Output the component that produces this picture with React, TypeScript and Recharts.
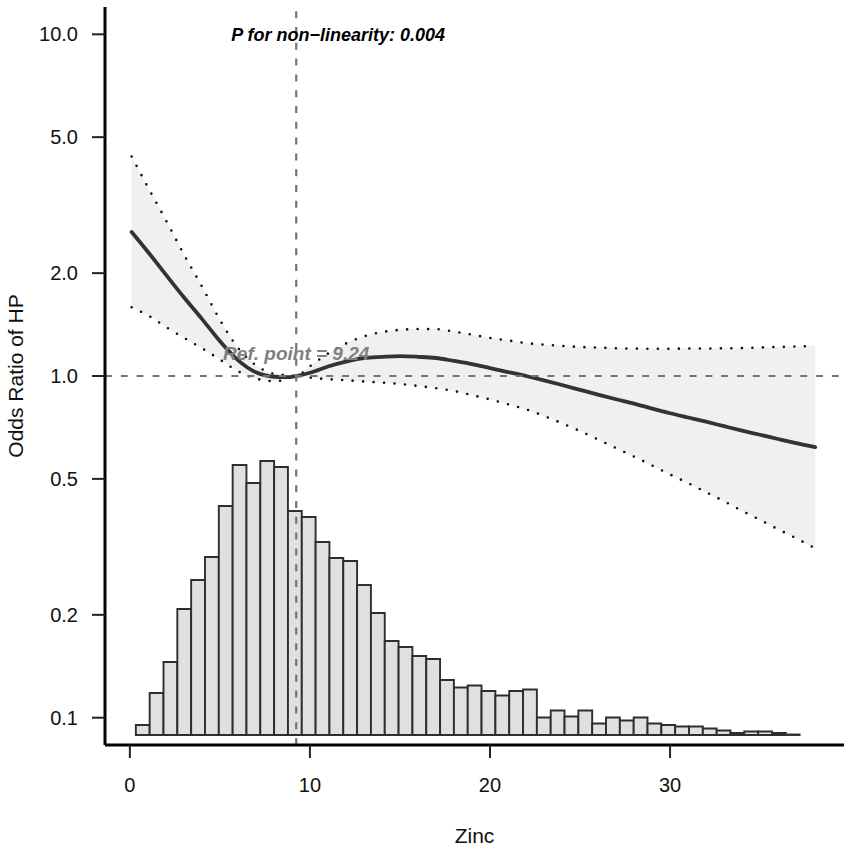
import React from 'react';
import {
  ComposedChart,
  Area,
  Line,
  Bar,
  XAxis,
  YAxis,
  ReferenceLine,
  ReferenceDot,
} from 'recharts';

// ---- RCS curve (Zinc vs odds ratio of HP) ----
const zincX = [
  0.1, 1, 2, 3, 4, 5, 6, 7, 8, 8.6, 9.24, 10, 11, 12, 13, 14, 15, 16, 17, 18, 19, 20,
  21, 22, 23, 24, 25, 26, 27, 28, 29, 30, 31, 32, 33, 34, 35, 36, 37, 38.06,
];
const orEstimate = [
  2.64, 2.31, 1.98, 1.7, 1.47, 1.265, 1.113, 1.025, 0.995, 0.992, 1.0, 1.022, 1.066,
  1.102, 1.128, 1.137, 1.143, 1.138, 1.129, 1.107, 1.084, 1.055, 1.027, 1.0, 0.971,
  0.941, 0.911, 0.882, 0.855, 0.83, 0.803, 0.778, 0.756, 0.735, 0.713, 0.692, 0.673,
  0.654, 0.636, 0.619,
];
const orLower95 = [
  1.589, 1.506, 1.392, 1.294, 1.206, 1.117, 1.033, 0.983, 0.966, 0.974, 1.0, 0.989,
  0.979, 0.972, 0.964, 0.956, 0.948, 0.935, 0.921, 0.904, 0.879, 0.854, 0.827, 0.799,
  0.764, 0.727, 0.69, 0.652, 0.615, 0.581, 0.547, 0.515, 0.486, 0.457, 0.43, 0.403,
  0.379, 0.356, 0.335, 0.313,
];
const orUpper95 = [
  4.39, 3.57, 2.86, 2.27, 1.83, 1.461, 1.21, 1.075, 1.015, 1.007, 1.0, 1.068, 1.163,
  1.245, 1.306, 1.344, 1.365, 1.372, 1.371, 1.349, 1.321, 1.293, 1.271, 1.249, 1.235,
  1.225, 1.216, 1.211, 1.206, 1.203, 1.202, 1.202, 1.203, 1.204, 1.205, 1.207, 1.212,
  1.216, 1.22, 1.224,
];

// ---- Histogram of Zinc ----
const binCenters = [
  0.717, 1.485, 2.253, 3.021, 3.789, 4.557, 5.325, 6.093, 6.861, 7.629, 8.397, 9.165,
  9.933, 10.701, 11.469, 12.237, 13.005, 13.773, 14.541, 15.309, 16.077, 16.845,
  17.613, 18.381, 19.149, 19.917, 20.685, 21.453, 22.221, 22.989, 23.757, 24.525,
  25.293, 26.061, 26.829, 27.597, 28.365, 29.133, 29.901, 30.669, 31.437, 32.205,
  32.973, 33.741, 34.509, 35.277, 36.045, 36.813,
];
const binCounts = [
  20, 84, 146, 252, 310, 356, 458, 540, 504, 548, 536, 448, 436, 386, 354, 348, 300,
  244, 188, 176, 158, 152, 110, 95, 99, 88, 79, 88, 91, 35, 49, 37, 49, 23, 35, 29, 35,
  23, 20, 17, 17, 13, 9, 4, 7, 7, 4, 1,
];

const xTicks = [0, 10, 20, 30];
const yTicks = [0.1, 0.2, 0.5, 1, 2, 5, 10];
const refPoint = 9.24;
const pText = 'P for non\u2212linearity: 0.004';
const refText = 'Ref. point = 9.24';

const curveData = zincX.map((x, i) => ({
  x,
  est: orEstimate[i],
  lo: orLower95[i],
  hi: orUpper95[i],
}));
const histData = binCenters.map((x, i) => ({ x, count: binCounts[i] }));

const X_DOMAIN: [number, number] = [-1.38, 39.66];
const Y_DOMAIN: [number, number] = [0.0832, 12.02];
const HIST_DOMAIN: [number, number] = [-20, 1456];
const FONT = '"Liberation Sans", Arial, Helvetica, sans-serif';

export default function App() {
  return (
    <div
      style={{
        position: 'absolute',
        left: 0,
        top: 0,
        width: 851,
        height: 851,
        background: '#ffffff',
        fontFamily: FONT,
      }}
    >
      <ComposedChart
        width={851}
        height={851}
        data={histData}
        margin={{ top: 7, right: 7, bottom: 0, left: 0 }}
      >
        <XAxis
          xAxisId="main"
          dataKey="x"
          type="number"
          domain={X_DOMAIN}
          ticks={xTicks}
          allowDataOverflow
          height={106}
          axisLine={{ stroke: '#000', strokeWidth: 3 }}
          tickLine={{ stroke: '#222', strokeWidth: 2 }}
          tickSize={13}
          tickMargin={20}
          tick={{ fontSize: 20, fill: '#111', fontFamily: FONT }}
          label={{
            value: 'Zinc',
            position: 'insideBottom',
            offset: 8,
            fontSize: 21,
            fill: '#111',
            fontFamily: FONT,
          }}
        />
        <XAxis
          xAxisId="hist"
          dataKey="x"
          type="number"
          domain={X_DOMAIN}
          allowDataOverflow
          height={0}
          hide
        />
        <YAxis
          yAxisId="main"
          type="number"
          scale="log"
          domain={Y_DOMAIN}
          ticks={yTicks}
          allowDataOverflow
          width={105}
          axisLine={{ stroke: '#000', strokeWidth: 3 }}
          tickLine={{ stroke: '#222', strokeWidth: 2 }}
          tickSize={13}
          tickMargin={14}
          tick={{ fontSize: 20, fill: '#111', fontFamily: FONT }}
          tickFormatter={(v: number) => v.toFixed(1)}
          label={{
            value: 'Odds Ratio of HP',
            angle: -90,
            position: 'insideLeft',
            offset: 16,
            fontSize: 21,
            fill: '#111',
            fontFamily: FONT,
            style: { textAnchor: 'middle' },
          }}
        />
        <YAxis
          yAxisId="hist"
          type="number"
          domain={HIST_DOMAIN}
          allowDataOverflow
          width={0}
          hide
        />
        <Bar
          xAxisId="hist"
          yAxisId="hist"
          dataKey="count"
          barSize={13.8}
          fill="#e0e0e0"
          stroke="#2e2e2e"
          strokeWidth={1.9}
          isAnimationActive={false}
        />
        <Area
          xAxisId="main"
          yAxisId="main"
          data={curveData}
          dataKey={(d: any) => [d.lo, d.hi]}
          type="monotone"
          stroke="none"
          fill="#f0f0f0"
          fillOpacity={1}
          isAnimationActive={false}
        />
        <Line
          xAxisId="main"
          yAxisId="main"
          data={curveData}
          dataKey="hi"
          type="monotone"
          stroke="#111"
          strokeWidth={2.6}
          strokeDasharray="0 10.5"
          strokeLinecap="round"
          dot={false}
          activeDot={false}
          isAnimationActive={false}
        />
        <Line
          xAxisId="main"
          yAxisId="main"
          data={curveData}
          dataKey="lo"
          type="monotone"
          stroke="#111"
          strokeWidth={2.6}
          strokeDasharray="0 10.5"
          strokeLinecap="round"
          dot={false}
          activeDot={false}
          isAnimationActive={false}
        />
        <Line
          xAxisId="main"
          yAxisId="main"
          data={curveData}
          dataKey="est"
          type="monotone"
          stroke="#333"
          strokeWidth={3.8}
          strokeLinecap="round"
          dot={false}
          activeDot={false}
          isAnimationActive={false}
        />
        <ReferenceLine
          xAxisId="main"
          yAxisId="main"
          x={refPoint}
          stroke="#747474"
          strokeWidth={2.2}
          strokeDasharray="7 8.8"
        />
        <ReferenceLine
          xAxisId="main"
          yAxisId="main"
          y={1}
          stroke="#747474"
          strokeWidth={2.2}
          strokeDasharray="7 8.8"
        />
        <ReferenceDot
          xAxisId="main"
          yAxisId="main"
          x={11.57}
          y={10}
          r={0}
          fill="none"
          stroke="none"
          label={{
            value: pText,
            position: 'center',
            fontSize: 18,
            fontWeight: 'bold',
            fontStyle: 'italic',
            fill: '#000',
            fontFamily: FONT,
          }}
        />
        <ReferenceDot
          xAxisId="main"
          yAxisId="main"
          x={refPoint}
          y={1.162}
          r={0}
          fill="none"
          stroke="none"
          label={{
            value: refText,
            position: 'center',
            fontSize: 19,
            fontWeight: 'bold',
            fontStyle: 'italic',
            fill: '#808080',
            fontFamily: FONT,
          }}
        />
      </ComposedChart>
    </div>
  );
}
